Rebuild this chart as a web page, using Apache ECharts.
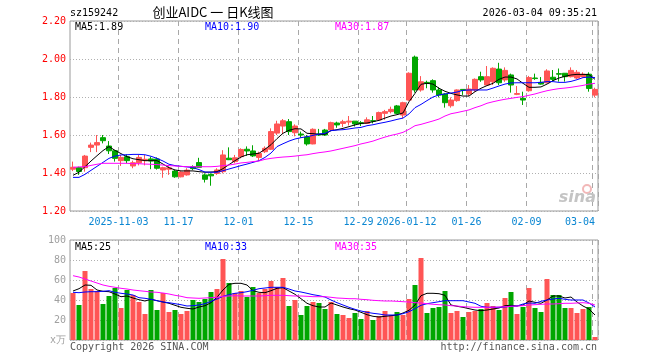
<!DOCTYPE html>
<html>
<head>
<meta charset="utf-8">
<script src="https://cdn.jsdelivr.net/npm/echarts@6/dist/echarts.min.js"></script>
<style>
html,body{margin:0;padding:0;background:#fff;}
#chart{width:660px;height:360px;}
</style>
</head>
<body>
<div id="chart"></div>
<script>
// ---------------- data ----------------
const dates = [
 '2025-10-22','2025-10-23','2025-10-24','2025-10-27','2025-10-28','2025-10-29','2025-10-30','2025-10-31',
 '2025-11-03','2025-11-04','2025-11-05','2025-11-06','2025-11-07','2025-11-10','2025-11-11','2025-11-12','2025-11-13','2025-11-14',
 '2025-11-17','2025-11-18','2025-11-19','2025-11-20','2025-11-21','2025-11-24','2025-11-25','2025-11-26','2025-11-27','2025-11-28',
 '2025-12-01','2025-12-02','2025-12-03','2025-12-04','2025-12-05','2025-12-08','2025-12-09','2025-12-10','2025-12-11','2025-12-12',
 '2025-12-15','2025-12-16','2025-12-17','2025-12-18','2025-12-19','2025-12-22','2025-12-23','2025-12-24','2025-12-25','2025-12-26',
 '2025-12-29','2025-12-30','2025-12-31','2026-01-05','2026-01-06','2026-01-07','2026-01-08','2026-01-09',
 '2026-01-12','2026-01-13','2026-01-14','2026-01-15','2026-01-16','2026-01-19','2026-01-20','2026-01-21','2026-01-22','2026-01-23',
 '2026-01-26','2026-01-27','2026-01-28','2026-01-29','2026-01-30','2026-02-02','2026-02-03','2026-02-04','2026-02-05','2026-02-06',
 '2026-02-09','2026-02-10','2026-02-11','2026-02-12','2026-02-13','2026-02-24','2026-02-25','2026-02-26','2026-02-27','2026-03-02','2026-03-03','2026-03-04'
];
const opens = [
 1.420,1.428,1.428,1.535,1.547,1.586,1.542,1.517,1.465,1.486,
 1.437,1.454,1.465,1.474,1.474,1.416,1.420,1.410,1.380,1.390,
 1.433,1.455,1.390,1.393,1.398,1.407,1.478,1.460,1.486,1.525,
 1.516,1.482,1.512,1.525,1.610,1.647,1.670,1.612,1.605,1.590,
 1.553,1.605,1.626,1.626,1.663,1.661,1.668,1.673,1.665,1.661,
 1.675,1.679,1.714,1.723,1.753,1.705,1.784,2.010,1.837,1.877,
 1.886,1.837,1.816,1.754,1.781,1.840,1.816,1.837,1.907,1.863,
 1.880,1.947,1.890,1.916,1.814,1.793,1.833,1.900,1.877,1.875,
 1.904,1.923,1.925,1.907,1.900,1.907,1.920,1.810
];
const closes = [
 1.430,1.408,1.489,1.547,1.560,1.570,1.517,1.477,1.482,1.465,
 1.454,1.482,1.472,1.463,1.425,1.428,1.427,1.380,1.405,1.415,
 1.423,1.430,1.367,1.385,1.416,1.495,1.470,1.480,1.524,1.516,
 1.490,1.503,1.530,1.618,1.658,1.675,1.618,1.647,1.600,1.553,
 1.630,1.600,1.600,1.665,1.653,1.670,1.673,1.658,1.660,1.680,
 1.673,1.718,1.723,1.735,1.714,1.770,1.925,1.837,1.880,1.872,
 1.837,1.810,1.770,1.784,1.837,1.835,1.842,1.893,1.890,1.907,
 1.951,1.875,1.940,1.863,1.818,1.784,1.902,1.897,1.868,1.937,
 1.893,1.920,1.907,1.940,1.930,1.920,1.845,1.840
];
const lows = [
 1.410,1.390,1.407,1.510,1.510,1.556,1.500,1.460,1.437,1.451,
 1.425,1.440,1.440,1.420,1.418,1.375,1.390,1.375,1.377,1.386,
 1.416,1.430,1.350,1.333,1.390,1.398,1.468,1.451,1.477,1.490,
 1.484,1.465,1.505,1.521,1.600,1.605,1.600,1.593,1.586,1.544,
 1.551,1.595,1.595,1.623,1.638,1.642,1.650,1.645,1.647,1.658,
 1.661,1.675,1.680,1.714,1.710,1.688,1.780,1.823,1.828,1.846,
 1.823,1.798,1.744,1.744,1.775,1.811,1.805,1.828,1.880,1.863,
 1.863,1.863,1.880,1.823,1.810,1.758,1.828,1.890,1.865,1.872,
 1.881,1.881,1.881,1.903,1.895,1.903,1.828,1.798
];
const highs = [
 1.460,1.433,1.495,1.560,1.600,1.600,1.568,1.521,1.495,1.498,
 1.465,1.495,1.495,1.486,1.482,1.433,1.436,1.416,1.410,1.425,
 1.440,1.480,1.398,1.398,1.425,1.520,1.535,1.495,1.530,1.540,
 1.546,1.512,1.540,1.635,1.675,1.684,1.684,1.656,1.618,1.600,
 1.635,1.632,1.632,1.670,1.670,1.680,1.700,1.673,1.673,1.693,
 1.700,1.723,1.732,1.749,1.758,1.775,1.930,2.018,1.910,1.886,
 1.893,1.851,1.820,1.798,1.840,1.840,1.863,1.898,1.933,1.963,
 1.956,1.980,1.956,1.923,1.858,1.828,1.911,1.923,1.905,1.946,
 1.942,1.950,1.925,1.956,1.942,1.930,1.930,1.849
];
const volumes = [
 47,35,69,51,49,36,44,52,32,50,
 45,38,26,50,30,47,28,30,26,29,
 40,38,41,48,51,81,57,47,49,43,
 53,47,51,59,53,62,34,40,25,34,
 38,37,31,38,26,25,22,27,21,29,
 20,24,29,25,28,25,41,55,82,27,
 32,33,49,27,29,23,28,29,31,37,
 34,30,42,48,26,33,52,32,28,61,
 45,45,32,32,27,31,33,3
];
const ma5 = [
 1.388,1.404,1.433,1.463,1.491,1.518,1.539,1.519,1.502,1.486,
 1.475,1.470,1.465,1.465,1.465,1.447,1.428,1.416,1.411,1.411,
 1.411,1.407,1.404,1.405,1.407,1.423,1.444,1.465,1.484,1.496,
 1.500,1.504,1.525,1.549,1.581,1.609,1.625,1.633,1.632,1.609,
 1.607,1.604,1.604,1.623,1.628,1.635,1.644,1.653,1.661,1.663,
 1.670,1.677,1.689,1.700,1.707,1.716,1.775,1.819,1.867,1.872,
 1.868,1.846,1.830,1.819,1.811,1.805,1.805,1.828,1.846,1.860,
 1.872,1.893,1.905,1.905,1.895,1.872,1.851,1.851,1.853,1.868,
 1.886,1.900,1.909,1.916,1.919,1.919,1.918,1.893
];
const ma10 = [
 1.377,1.377,1.393,1.414,1.435,1.456,1.477,1.489,1.495,1.496,
 1.498,1.498,1.496,1.488,1.477,1.463,1.446,1.439,1.435,1.432,
 1.428,1.418,1.405,1.404,1.404,1.412,1.421,1.430,1.439,1.447,
 1.456,1.465,1.482,1.505,1.539,1.554,1.568,1.579,1.586,1.591,
 1.598,1.605,1.609,1.623,1.626,1.628,1.632,1.637,1.640,1.649,
 1.654,1.661,1.667,1.674,1.682,1.689,1.711,1.744,1.761,1.781,
 1.800,1.811,1.816,1.821,1.826,1.835,1.837,1.837,1.837,1.837,
 1.847,1.858,1.868,1.874,1.875,1.875,1.875,1.875,1.877,1.881,
 1.881,1.877,1.877,1.882,1.891,1.902,1.905,1.902
];
const ma30 = [
 1.430,1.432,1.433,1.440,1.446,1.451,1.451,1.451,1.451,1.451,
 1.449,1.449,1.447,1.446,1.444,1.442,1.439,1.437,1.435,1.433,
 1.433,1.433,1.433,1.433,1.435,1.439,1.442,1.447,1.453,1.456,
 1.460,1.463,1.472,1.477,1.481,1.484,1.486,1.489,1.493,1.496,
 1.502,1.507,1.511,1.516,1.523,1.530,1.537,1.544,1.553,1.560,
 1.568,1.579,1.589,1.598,1.605,1.614,1.630,1.649,1.656,1.665,
 1.674,1.684,1.700,1.712,1.718,1.725,1.732,1.744,1.754,1.767,
 1.775,1.782,1.788,1.793,1.798,1.802,1.809,1.816,1.825,1.833,
 1.839,1.844,1.847,1.851,1.856,1.861,1.868,1.872
];
const volMa5 = [
 49,51.3,55,54.7,50,48.7,48.3,46,43.3,44,
 42,40.3,39,40.7,39.3,38,36.7,34.7,32.7,31.7,
 31,33,34.3,37.3,42.7,50,55.7,56.7,56.7,55,
 49.3,47.7,47.3,49.3,51.7,52.3,49,45.7,41.3,36.7,
 34.3,33,33,37,35,33,31.3,30,27.7,25.3,
 23.7,23,23.7,24.3,25,27,29.7,35,44.3,46.7,
 46.7,46.3,44.7,35,33.7,32.7,31.3,30,29.3,30,
 31,32,34.3,34.7,34,35,39,37.7,36.7,40,
 44,44,42,43,38,34,31,25
];
const volMa10 = [
 47.7,47.3,48,48.3,48.3,48.7,49.3,47.7,46.7,46,
 45,42.3,41.7,40.7,39.3,38,37.3,36.3,35.3,34,
 34.3,35,36.3,38.7,41,43.7,45.3,46.7,47.3,48.3,
 49.7,51.3,52,52.7,52.7,52.7,51,49,48,46.7,
 45.3,44.3,43,40,37.3,35,32.7,30.7,29,27.7,
 26.7,26,25,25,25,26.3,28.3,31.3,34.7,36.3,
 37.3,38.3,39.3,39.3,39.3,39.3,38,36.7,33.7,32.7,
 32.7,32.7,33,33.7,34,36,37,36.7,38.7,40,
 41,41.7,40.7,40,40,40,37,33
];
const volMa30 = [
 64.3,63,61,59,57,55,53.7,52.7,51.7,51,
 50,49.3,48.7,48,47.7,47,46,44.7,43.7,42.3,
 42,41.7,42,42.3,42.7,43.7,44,44.3,44,44,
 44,44,44.3,44.7,44.7,44.7,44.3,44,44,43.7,
 43.3,43.3,43.3,42.7,42,41.7,41.3,41.3,40.7,40.3,
 39.7,39.3,39,39,38.7,38.3,38,37.3,37,36.3,
 35.7,35.3,35,34.3,34,33.3,33,32.7,32.7,32.7,
 32.7,33,33.3,33.7,34,34.3,35,35.3,35.7,36,
 36,36.3,36.7,36.7,37,37.3,36.7,35
];
const tickIdx = [8, 18, 28, 38, 48, 56, 66, 76, 87];
const tickLabels = ['2025-11-03','11-17','12-01','12-15','12-29','2026-01-12','01-26','02-09','03-04'];
const volUnit = 'x万';

// ---------------- chart ----------------
const UP = '#ff5555', DOWN = '#00a600';
const MONO = "'DejaVu Sans Mono', monospace";
const candles = dates.map((d, i) => [opens[i], closes[i], lows[i], highs[i]]);
const volData = volumes.map((v, i) => ({
  value: v,
  itemStyle: { color: closes[i] >= opens[i] ? UP : DOWN }
}));
const showTick = (idx) => tickIdx.indexOf(idx) >= 0;
const last = (a) => a[a.length - 1];

const chart = echarts.init(document.getElementById('chart'), null, { renderer: 'canvas' });

const xCommon = {
  type: 'category',
  data: dates,
  boundaryGap: true,
  axisLine: { show: false },
  axisTick: { show: false },
  splitLine: {
    show: true,
    interval: (idx) => showTick(idx),
    lineStyle: { color: '#a8a8a8', type: [5, 4], width: 1 }
  }
};

const lineSeries = (name, data, color, xi, yi) => ({
  name, type: 'line', data, xAxisIndex: xi, yAxisIndex: yi,
  symbol: 'none', smooth: false, silent: true,
  lineStyle: { color, width: 1 }, z: 3
});

const option = {
  animation: false,
  backgroundColor: '#fff',
  grid: [
    { left: 70, top: 21, width: 528, height: 190, show: true, borderColor: '#9a9a9a', borderWidth: 1, backgroundColor: 'transparent' },
    { left: 70, top: 240, width: 528, height: 100, show: true, borderColor: '#9a9a9a', borderWidth: 1, backgroundColor: 'transparent' }
  ],
  xAxis: [
    Object.assign({}, xCommon, {
      gridIndex: 0,
      axisLabel: {
        show: true,
        interval: (idx) => showTick(idx),
        margin: 6,
        color: '#0a86d2',
        fontFamily: MONO,
        fontSize: 10,
        formatter: (value, idx) => {
          const k = tickIdx.indexOf(idx);
          const txt = k >= 0 ? tickLabels[k] : '';
          return (k === tickIdx.length - 1 ? '{e|' : '{n|') + txt + '}';
        },
        rich: {
          n: { color: '#0a86d2', fontFamily: MONO, fontSize: 10, padding: [0, 5, 0, 0] },
          e: { color: '#0a86d2', fontFamily: MONO, fontSize: 10, padding: [0, 30, 0, 0] }
        }
      }
    }),
    Object.assign({}, xCommon, { gridIndex: 1, axisLabel: { show: false } })
  ],
  yAxis: [
    {
      type: 'value', gridIndex: 0, min: 1.2, max: 2.2, interval: 0.2,
      axisLine: { show: false }, axisTick: { show: false },
      axisLabel: { color: '#ff0000', fontFamily: MONO, fontSize: 10, margin: 4,
        formatter: (v) => v.toFixed(2) },
      splitLine: { show: true, lineStyle: { color: '#b0b0b0', type: [1, 2], width: 1 } }
    },
    {
      type: 'value', gridIndex: 1, min: 0, max: 100, interval: 20,
      axisLine: { show: false }, axisTick: { show: false },
      axisLabel: { color: '#a0a0a0', fontFamily: MONO, fontSize: 10, margin: 4,
        formatter: (v) => v === 0 ? volUnit : String(v) },
      splitLine: { show: true, lineStyle: { color: '#b0b0b0', type: [1, 2], width: 1 } }
    }
  ],
  series: [
    {
      name: 'K', type: 'candlestick', data: candles, xAxisIndex: 0, yAxisIndex: 0,
      barWidth: 5, silent: true, z: 2,
      itemStyle: { color: UP, color0: DOWN, borderColor: UP, borderColor0: DOWN, borderWidth: 1 }
    },
    lineSeries('MA5', ma5, '#000000', 0, 0),
    lineSeries('MA10', ma10, '#0000ff', 0, 0),
    lineSeries('MA30', ma30, '#ff00ff', 0, 0),
    {
      name: 'VOL', type: 'bar', data: volData, xAxisIndex: 1, yAxisIndex: 1,
      barWidth: 5, silent: true, z: 2
    },
    lineSeries('VMA5', volMa5, '#000000', 1, 1),
    lineSeries('VMA10', volMa10, '#0000ff', 1, 1),
    lineSeries('VMA30', volMa30, '#ff00ff', 1, 1)
  ],
  graphic: [
    { type: 'text', x: 70, y: 13, style: { text: 'sz159242', fill: '#000', font: "10px 'DejaVu Sans Mono', monospace", align: 'left', verticalAlign: 'middle' } },
    { type: 'text', x: 213, y: 12, style: { text: '创业AIDC 一 日K线图', fill: '#000', font: "13px 'Noto Sans CJK SC', sans-serif", align: 'center', verticalAlign: 'middle' } },
    { type: 'text', x: 597, y: 13, style: { text: '2026-03-04 09:35:21', fill: '#000', font: "10px 'DejaVu Sans Mono', monospace", align: 'right', verticalAlign: 'middle' } },
    { type: 'text', x: 75, y: 27, z: 10, style: { text: 'MA5:' + last(ma5).toFixed(2), fill: '#000', font: "10px 'DejaVu Sans Mono', monospace", align: 'left', verticalAlign: 'middle' } },
    { type: 'text', x: 205, y: 27, z: 10, style: { text: 'MA10:' + last(ma10).toFixed(2), fill: '#0000ff', font: "10px 'DejaVu Sans Mono', monospace", align: 'left', verticalAlign: 'middle' } },
    { type: 'text', x: 335, y: 27, z: 10, style: { text: 'MA30:' + last(ma30).toFixed(2), fill: '#ff00ff', font: "10px 'DejaVu Sans Mono', monospace", align: 'left', verticalAlign: 'middle' } },
    { type: 'text', x: 75, y: 247, z: 10, style: { text: 'MA5:' + Math.round(last(volMa5)), fill: '#000', font: "10px 'DejaVu Sans Mono', monospace", align: 'left', verticalAlign: 'middle' } },
    { type: 'text', x: 205, y: 247, z: 10, style: { text: 'MA10:' + Math.round(last(volMa10)), fill: '#0000ff', font: "10px 'DejaVu Sans Mono', monospace", align: 'left', verticalAlign: 'middle' } },
    { type: 'text', x: 335, y: 247, z: 10, style: { text: 'MA30:' + Math.round(last(volMa30)), fill: '#ff00ff', font: "10px 'DejaVu Sans Mono', monospace", align: 'left', verticalAlign: 'middle' } },
    { type: 'text', x: 70, y: 347, style: { text: 'Copyright 2026 SINA.COM', fill: '#555', font: "10px 'DejaVu Sans Mono', monospace", align: 'left', verticalAlign: 'middle' } },
    { type: 'text', x: 597, y: 347, style: { text: 'http://finance.sina.com.cn', fill: '#555', font: "10px 'DejaVu Sans Mono', monospace", align: 'right', verticalAlign: 'middle' } },
    { type: 'circle', shape: { cx: 587, cy: 189, r: 4 }, style: { fill: 'none', stroke: '#f2b8b8', lineWidth: 2 }, z: 1 },
    { type: 'text', x: 596, y: 198, z: 1, style: { text: 'sina', fill: '#c4c4c4', font: "italic bold 16px 'DejaVu Sans', sans-serif", align: 'right', verticalAlign: 'middle' } }
  ]
};
chart.setOption(option);
</script>
</body>
</html>
